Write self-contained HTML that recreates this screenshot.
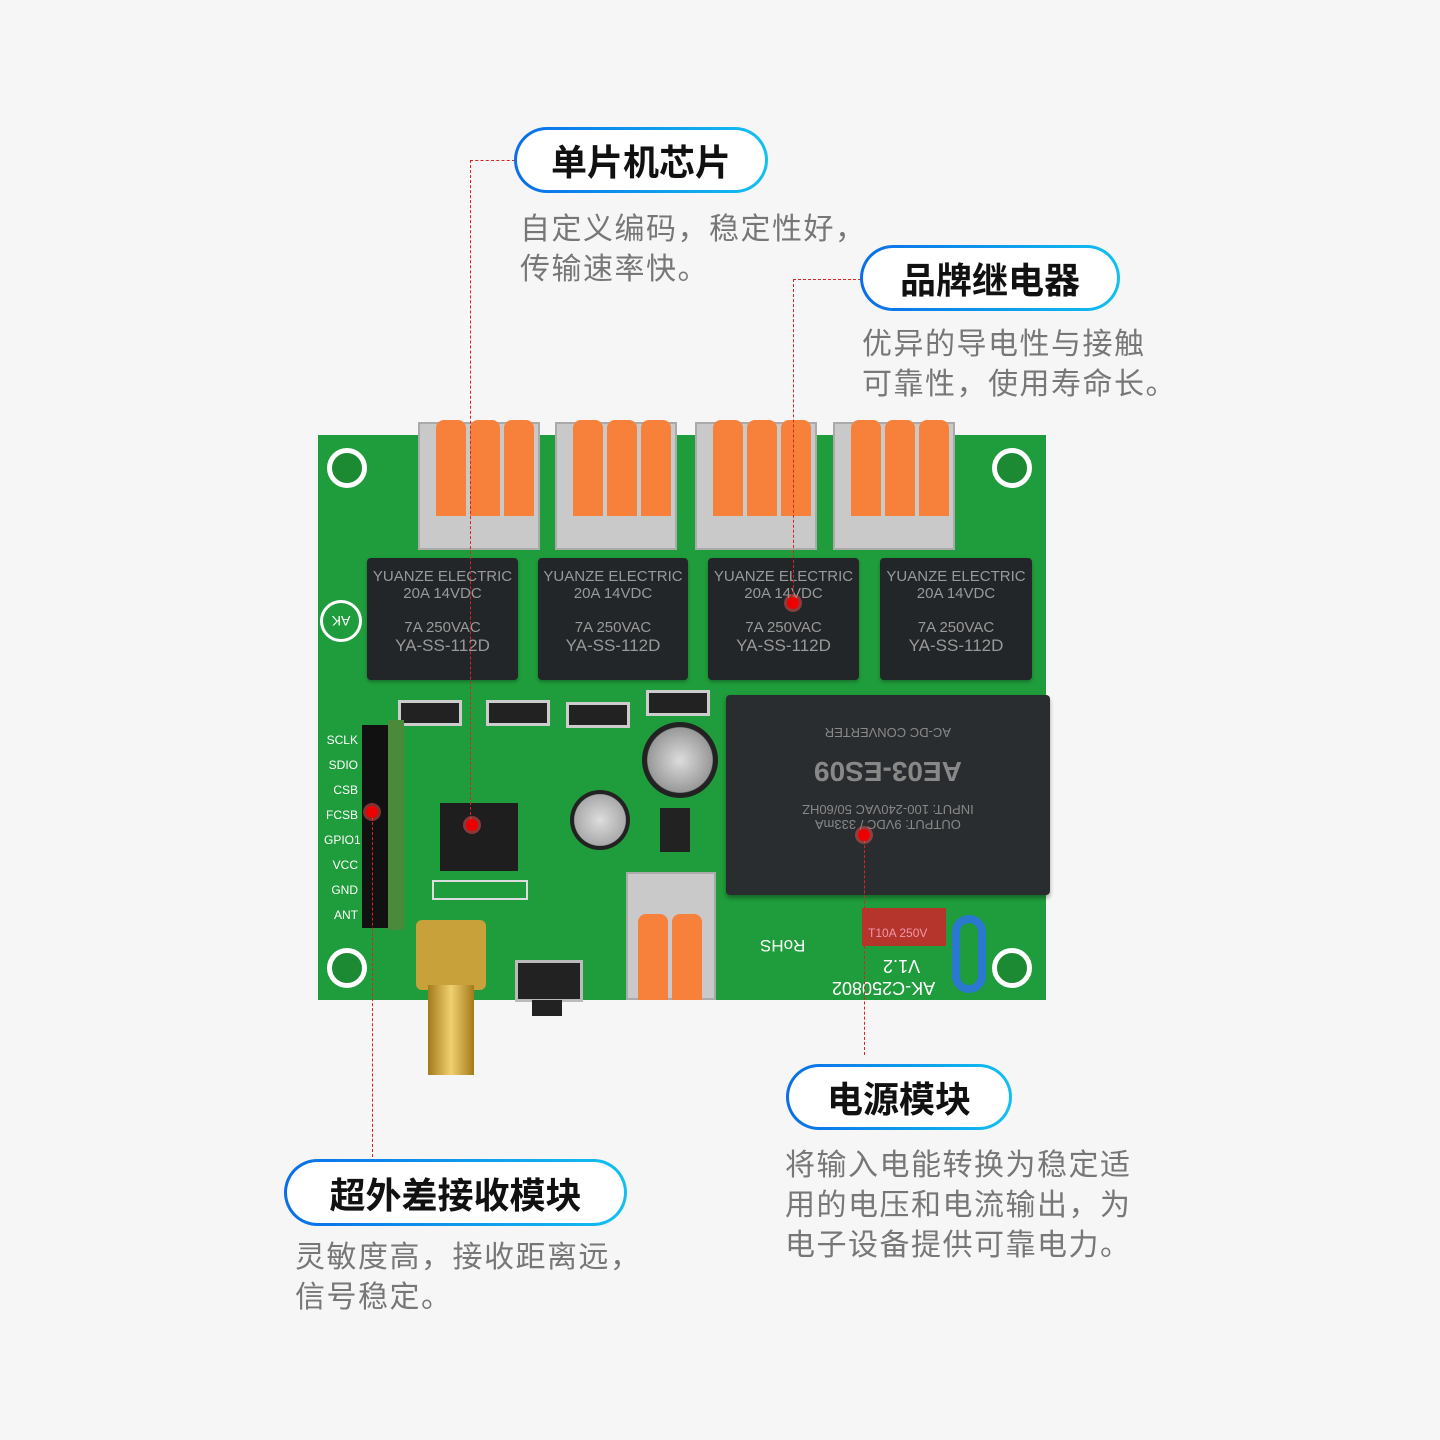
<!DOCTYPE html>
<html><head><meta charset="utf-8"><style>
body{margin:0;width:1440px;height:1440px;background:#f6f6f6;position:relative;overflow:hidden;font-family:"Liberation Sans","Noto Sans CJK SC",sans-serif}
div{position:absolute;box-sizing:border-box}
.pill{border-radius:34px;padding:3px;background:linear-gradient(90deg,#0a6ee8,#12c0f0)}
.pill>div{position:static;background:#fff;border-radius:31px;height:100%;display:flex;align-items:center;justify-content:center;font-weight:bold;font-size:36px;color:#111}
.desc{color:#777;font-size:30px;line-height:40px;letter-spacing:1.5px}
.tb{background:#c9c9c9;border:2px solid #aaa}
.lv{background:#f7803a;border-radius:8px 8px 0 0;width:30px;height:96px;top:-4px}
.rel{background:#222629;border-radius:4px;color:#999;font-size:15px;text-align:center;box-shadow:0 2px 3px #0004}
.hole{width:40px;height:40px;border-radius:50%;border:5px solid #fff;background:#1b8a33}
.dl{border-color:#d22;border-style:dashed;border-width:0}
.dot{width:12px;height:12px;border-radius:50%;background:#e00;box-shadow:0 0 0 3px #f557}
</style></head><body>
<div style="left:318px;top:435px;width:728px;height:565px;background:#1f9c3b"></div>
<div class="hole" style="left:327px;top:448px"></div>
<div class="hole" style="left:992px;top:448px"></div>
<div class="hole" style="left:327px;top:948px"></div>
<div class="hole" style="left:992px;top:948px"></div>
<div style="left:320px;top:600px;width:42px;height:42px;border-radius:50%;border:3px solid #fff;color:#fff;font-size:14px;display:flex;align-items:center;justify-content:center;transform:rotate(180deg)">AK</div>
<div class="tb" style="left:418px;top:422px;width:122px;height:128px"><div class="lv" style="left:16px"></div><div class="lv" style="left:50px"></div><div class="lv" style="left:84px"></div></div>
<div class="tb" style="left:555px;top:422px;width:122px;height:128px"><div class="lv" style="left:16px"></div><div class="lv" style="left:50px"></div><div class="lv" style="left:84px"></div></div>
<div class="tb" style="left:695px;top:422px;width:122px;height:128px"><div class="lv" style="left:16px"></div><div class="lv" style="left:50px"></div><div class="lv" style="left:84px"></div></div>
<div class="tb" style="left:833px;top:422px;width:122px;height:128px"><div class="lv" style="left:16px"></div><div class="lv" style="left:50px"></div><div class="lv" style="left:84px"></div></div>
<div class="rel" style="left:367px;top:558px;width:151px;height:122px;padding-top:10px">YUANZE ELECTRIC<br>20A 14VDC<br><br>7A 250VAC<br><span style="font-size:17px">YA-SS-112D</span></div>
<div class="rel" style="left:538px;top:558px;width:150px;height:122px;padding-top:10px">YUANZE ELECTRIC<br>20A 14VDC<br><br>7A 250VAC<br><span style="font-size:17px">YA-SS-112D</span></div>
<div class="rel" style="left:708px;top:558px;width:151px;height:122px;padding-top:10px">YUANZE ELECTRIC<br>20A 14VDC<br><br>7A 250VAC<br><span style="font-size:17px">YA-SS-112D</span></div>
<div class="rel" style="left:880px;top:558px;width:152px;height:122px;padding-top:10px">YUANZE ELECTRIC<br>20A 14VDC<br><br>7A 250VAC<br><span style="font-size:17px">YA-SS-112D</span></div>
<div style="left:726px;top:695px;width:324px;height:200px;background:#2a2d2f;border-radius:4px;box-shadow:0 3px 4px #0005;color:#888;font-size:13px;text-align:center;padding-top:30px"><span style="display:inline-block;transform:rotate(180deg)">OUTPUT: 9VDC / 333mA<br>INPUT: 100-240VAC 50/60HZ<br><br><b style="font-size:28px">AE03-ES09</b><br><br>AC-DC CONVERTER</span></div>
<div style="left:398px;top:700px;width:64px;height:26px;background:#222;border:3px solid #ccc"></div>
<div style="left:486px;top:700px;width:64px;height:26px;background:#222;border:3px solid #ccc"></div>
<div style="left:566px;top:702px;width:64px;height:26px;background:#222;border:3px solid #ccc"></div>
<div style="left:646px;top:690px;width:64px;height:26px;background:#222;border:3px solid #ccc"></div>
<div style="left:440px;top:803px;width:78px;height:68px;background:#1e1e1e"></div>
<div style="left:642px;top:722px;width:76px;height:76px;border-radius:50%;background:radial-gradient(#ddd,#999 60%,#222 62%)"></div>
<div style="left:570px;top:790px;width:60px;height:60px;border-radius:50%;background:radial-gradient(#ddd,#aaa 60%,#222 62%)"></div>
<div style="left:660px;top:808px;width:30px;height:44px;background:#222"></div>
<div style="left:362px;top:725px;width:32px;height:203px;background:#111"></div>
<div style="left:388px;top:720px;width:16px;height:210px;background:#4a8a3a"></div>
<div style="left:324px;top:728px;width:34px;height:200px;color:#fff;font-size:12px;line-height:25px;text-align:right">SCLK<br>SDIO<br>CSB<br>FCSB<br>GPIO1<br>VCC<br>GND<br>ANT</div>
<div style="left:432px;top:880px;width:96px;height:20px;border:2px solid #ddd"></div>
<div style="left:416px;top:920px;width:70px;height:70px;background:#c9a13a;border-radius:6px"></div>
<div style="left:428px;top:985px;width:46px;height:90px;background:linear-gradient(90deg,#a47a1a,#f0d070,#a47a1a)"></div>
<div style="left:515px;top:960px;width:68px;height:42px;background:#222;border:3px solid #bbb"></div>
<div style="left:532px;top:1000px;width:30px;height:16px;background:#222"></div>
<div class="tb" style="left:626px;top:872px;width:90px;height:128px"><div class="lv" style="left:10px;top:40px;height:86px"></div><div class="lv" style="left:44px;top:40px;height:86px"></div></div>
<div style="left:862px;top:908px;width:84px;height:38px;background:#b5342c;color:#e9a;font-size:12px;padding:18px 0 0 6px">T10A 250V</div>
<div style="left:952px;top:915px;width:34px;height:78px;border:8px solid #2a78d0;border-radius:18px"></div>
<div style="left:760px;top:935px;color:#fff;font-size:17px;transform:rotate(180deg)">RoHS</div>
<div style="left:832px;top:955px;color:#fff;font-size:18px;transform:rotate(180deg);line-height:22px">AK-C250802<br>&nbsp;&nbsp;&nbsp;V1.2</div>
<div class="dl" style="left:470px;top:160px;width:45px;height:665px;border-top-width:1px;border-left-width:1px"></div>
<div class="dl" style="left:793px;top:279px;width:68px;height:324px;border-top-width:1px;border-left-width:1px"></div>
<div class="dl" style="left:864px;top:835px;width:1px;height:220px;border-left-width:1px"></div>
<div class="dl" style="left:372px;top:812px;width:1px;height:345px;border-left-width:1px"></div>
<div class="dot" style="left:466px;top:819px"></div>
<div class="dot" style="left:787px;top:597px"></div>
<div class="dot" style="left:858px;top:829px"></div>
<div class="dot" style="left:366px;top:806px"></div>
<div class="pill" style="left:514px;top:127px;width:254px;height:66px"><div>单片机芯片</div></div>
<div class="desc" style="left:520px;top:210px;width:380px">自定义编码，稳定性好，<br>传输速率快。</div>
<div class="pill" style="left:860px;top:245px;width:260px;height:66px"><div>品牌继电器</div></div>
<div class="desc" style="left:862px;top:325px;width:360px">优异的导电性与接触<br>可靠性，使用寿命长。</div>
<div class="pill" style="left:786px;top:1064px;width:226px;height:66px"><div>电源模块</div></div>
<div class="desc" style="left:785px;top:1146px;width:420px">将输入电能转换为稳定适<br>用的电压和电流输出，为<br>电子设备提供可靠电力。</div>
<div class="pill" style="left:284px;top:1159px;width:343px;height:67px"><div>超外差接收模块</div></div>
<div class="desc" style="left:295px;top:1238px;width:380px">灵敏度高，接收距离远，<br>信号稳定。</div>
</body></html>
